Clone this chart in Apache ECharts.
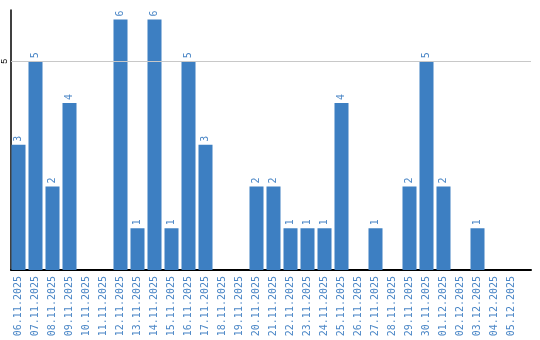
<!DOCTYPE html>
<html><head><meta charset="utf-8">
<script src="https://cdn.jsdelivr.net/npm/echarts@6/dist/echarts.min.js"></script>
<style>html,body{margin:0;padding:0;background:#fff}#c{width:540px;height:340px}</style>
</head><body><div id="c"></div>
<script>
const categories = ["06.11.2025","07.11.2025","08.11.2025","09.11.2025","10.11.2025","11.11.2025","12.11.2025","13.11.2025","14.11.2025","15.11.2025","16.11.2025","17.11.2025","18.11.2025","19.11.2025","20.11.2025","21.11.2025","22.11.2025","23.11.2025","24.11.2025","25.11.2025","26.11.2025","27.11.2025","28.11.2025","29.11.2025","30.11.2025","01.12.2025","02.12.2025","03.12.2025","04.12.2025","05.12.2025"];
const values = [3,5,2,4,0,0,6,1,6,1,5,3,0,0,2,2,1,1,1,4,0,1,0,2,5,2,0,1,0,0];
const gridValues = [5];
const Y_MAX = 6.23;
const chart = echarts.init(document.getElementById('c'));
chart.setOption({
  animation:false,
  grid:[
    {left:10,right:9,top:10,bottom:70,containLabel:false},
    {left:10,right:20,top:10,bottom:70,containLabel:false}
  ],
  xAxis:[
    {gridIndex:0,type:'value',min:0,max:1,show:true,
      axisLine:{show:true,onZero:false,lineStyle:{color:'#000',width:2}},
      axisTick:{show:false},axisLabel:{show:false},splitLine:{show:false}},
    {gridIndex:1,type:'category',data:categories,
      axisLine:{show:false},
      axisTick:{show:false},
      axisLabel:{rotate:90,interval:0,color:'#4a86c6',fontSize:10,fontFamily:'DejaVu Sans Mono',margin:6}}
  ],
  yAxis:[
    {gridIndex:0,type:'value',min:0,max:Y_MAX,interval:5,
      axisLine:{show:true,lineStyle:{color:'#000',width:1.5}},
      axisTick:{show:false},
      splitLine:{show:false},
      axisLabel:{rotate:90,fontSize:9,color:'#000',margin:2,
        formatter:v=>v===5?'5':''}},
    {gridIndex:1,type:'value',min:0,max:Y_MAX,interval:5,show:false,splitLine:{show:false}}
  ],
  series:[
    {type:'line',xAxisIndex:0,yAxisIndex:0,data:[],
      markLine:{silent:true,symbol:'none',label:{show:false},
        lineStyle:{color:'#c8c8c8',width:1,type:'solid'},
        data:gridValues.map(v=>({yAxis:v}))}},
    {type:'bar',xAxisIndex:1,yAxisIndex:1,data:values,barCategoryGap:'17.6%',z:3,
    itemStyle:{color:'#3d7fc2'},
    label:{show:true,position:'top',rotate:90,align:'left',verticalAlign:'middle',distance:3,
      color:'#4a86c6',fontSize:10,fontFamily:'DejaVu Sans Mono',
      formatter:p=>p.value>0?String(p.value):''}}]
});
</script></body></html>
